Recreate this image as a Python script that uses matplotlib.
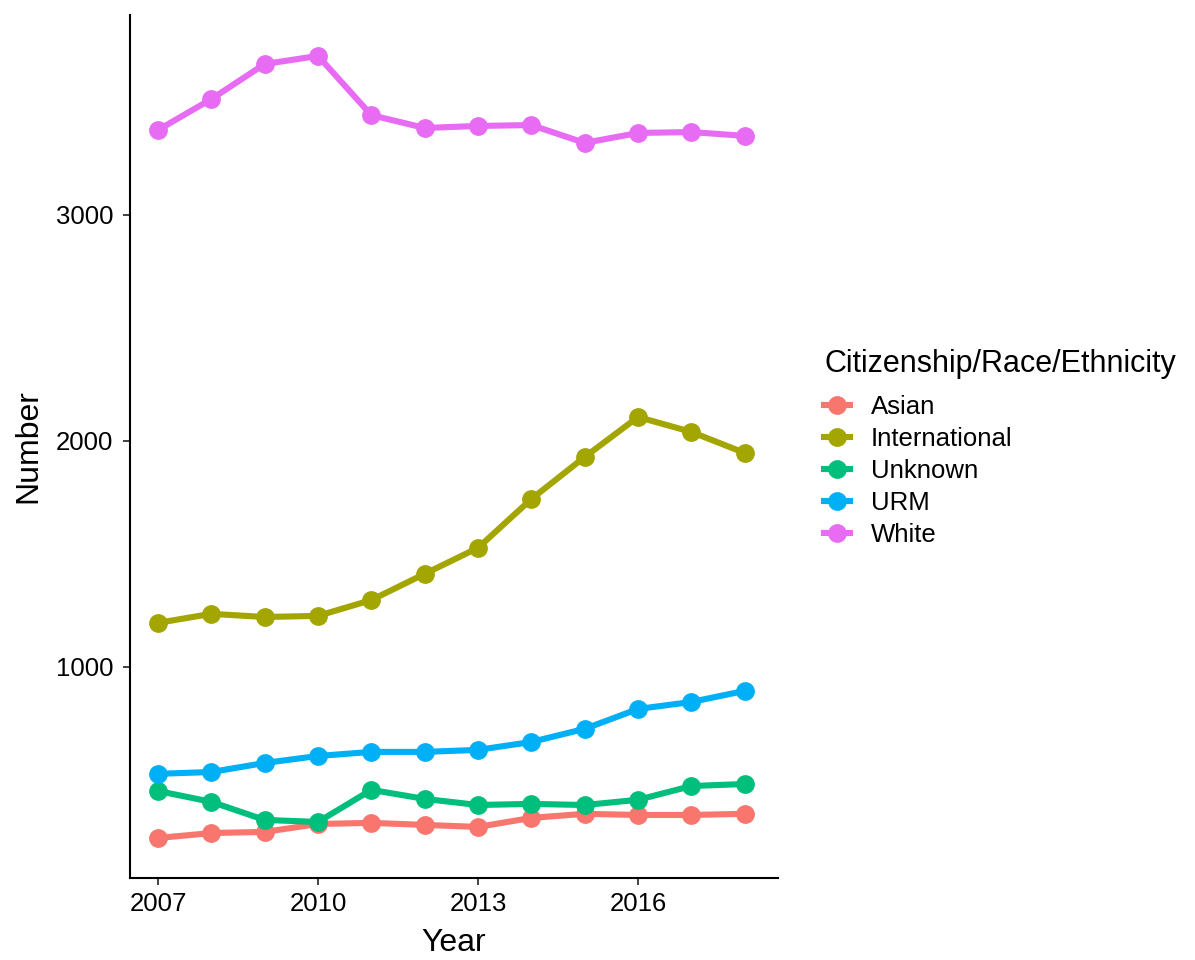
import matplotlib
matplotlib.use("Agg")
import matplotlib.pyplot as plt
from matplotlib.lines import Line2D

years = [2007, 2008, 2009, 2010, 2011, 2012, 2013, 2014, 2015, 2016, 2017, 2018]
asian = [243, 265, 270, 305, 310, 301, 292, 332, 350, 345, 345, 350]
international = [1195, 1235, 1221, 1226, 1296, 1412, 1527, 1743, 1929, 2106, 2040, 1947]
unknown = [451, 403, 323, 314, 456, 416, 389, 394, 389, 412, 473, 482]
urm = [527, 535, 575, 606, 624, 624, 633, 668, 726, 814, 845, 894]
white = [3376, 3513, 3668, 3704, 3442, 3385, 3394, 3398, 3319, 3363, 3367, 3350]

groups = ["Asian", "International", "Unknown", "URM", "White"]
series = [asian, international, unknown, urm, white]
colors = ["#F8766D", "#A3A500", "#00BF7D", "#00B0F6", "#E76BF3"]
x_ticks = [2007, 2010, 2013, 2016]
y_ticks = [1000, 2000, 3000]

plt.rcParams['font.family'] = ['Liberation Sans', 'DejaVu Sans']

fig = plt.figure(figsize=(11.95, 9.6), dpi=100)
ax = fig.add_axes([130/1195, 82/960, (778-130)/1195, (878-15)/960])

for name, vals, c in zip(groups, series, colors):
    ax.plot(years, vals, color=c, lw=4.4, marker='o', ms=12.5, solid_capstyle='butt', zorder=3)

ax.set_xlim(2006.475, 2018.625)
ax.set_ylim(66, 3885)
ax.set_xticks(x_ticks)
ax.set_yticks(y_ticks)
ax.tick_params(axis='both', labelsize=18.5, length=5, width=1.3, color='#333333', labelcolor='black')
ax.tick_params(axis='y', pad=7)
ax.tick_params(axis='x', pad=5)
for s in ['top', 'right']:
    ax.spines[s].set_visible(False)
for s in ['left', 'bottom']:
    ax.spines[s].set_linewidth(1.5)
    ax.spines[s].set_color('black')
ax.set_xlabel("Year", fontsize=23, labelpad=9)
ax.set_ylabel("Number", fontsize=23, labelpad=9)

handles = [Line2D([], [], color=c, lw=4.4, marker='o', ms=12.5) for c in colors]
leg = fig.legend(handles, groups, title="Citizenship/Race/Ethnicity",
                 loc='center left', bbox_to_anchor=(824/1195, 1 - 448/960),
                 frameon=False, fontsize=18.5, title_fontsize=22,
                 handlelength=1.0, handletextpad=0.82, labelspacing=0.31,
                 borderaxespad=0, borderpad=0)
leg._legend_box.align = "left"
leg._legend_box.sep = 11.5

fig.savefig("out.png", dpi=100)
